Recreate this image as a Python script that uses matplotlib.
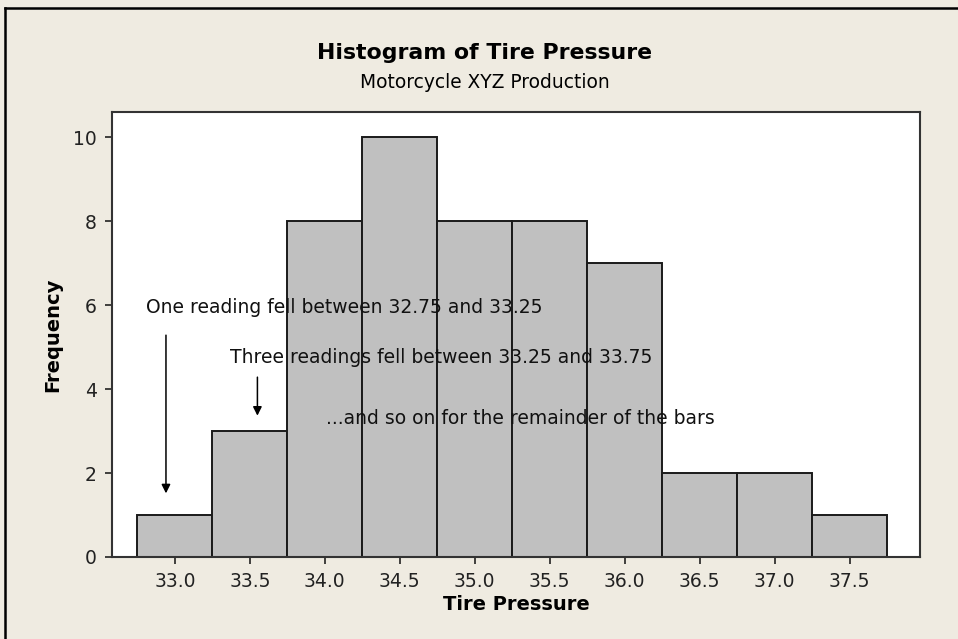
import matplotlib.pyplot as plt
from matplotlib.lines import Line2D

# bin centres and counts
bin_centers = [33.0, 33.5, 34.0, 34.5, 35.0, 35.5, 36.0, 36.5, 37.0, 37.5]
frequencies = [1, 3, 8, 10, 8, 8, 7, 2, 2, 1]
bin_width = 0.5

x_ticks = [33.0, 33.5, 34.0, 34.5, 35.0, 35.5, 36.0, 36.5, 37.0, 37.5]
y_ticks = [0, 2, 4, 6, 8, 10]

notes = [
    ("One reading fell between 32.75 and 33.25", 32.81, 5.95),
    ("Three readings fell between 33.25 and 33.75", 33.37, 4.76),
    ("...and so on for the remainder of the bars", 34.01, 3.29),
]
# arrows: (x, y_start, y_end)
arrows = [
    (32.94, 5.35, 1.45),
    (33.55, 4.35, 3.3),
]

bg = "#EFEBE1"

fig = plt.figure(figsize=(9.58, 6.39), dpi=100, facecolor=bg)
ax = fig.add_axes([112 / 958, 1 - 557 / 639, (920 - 112) / 958, (557 - 112) / 639])
ax.set_facecolor("white")

ax.bar(bin_centers, frequencies, width=bin_width, color="#C0C0C0",
       edgecolor="#1a1a1a", linewidth=1.4, zorder=2)

ax.set_xlim(32.58, 37.97)
ax.set_ylim(0, 10.6)
ax.set_xticks(x_ticks)
ax.set_xticklabels([f"{t:.1f}" for t in x_ticks])
ax.set_yticks(y_ticks)

for s in ax.spines.values():
    s.set_linewidth(1.5)
    s.set_color("#333333")
ax.tick_params(direction="out", length=5, width=1.2, labelsize=13.5,
               colors="#222222", pad=6)

ax.set_xlabel("Tire Pressure", fontsize=14, fontweight="bold", labelpad=3)
ax.set_ylabel("Frequency", fontsize=14, fontweight="bold", labelpad=8)

for txt, x, y in notes:
    ax.text(x, y, txt, fontsize=13.5, va="center", ha="left", zorder=4,
            color="#111111")

for x, y0, y1 in arrows:
    ax.annotate("", xy=(x, y1), xytext=(x, y0), zorder=4,
                arrowprops=dict(arrowstyle="-|>", color="black", lw=1.1,
                                mutation_scale=13))

fig.text(485 / 958, 1 - 53 / 639, "Histogram of Tire Pressure",
         ha="center", va="center", fontsize=15.8, fontweight="bold")
fig.text(485 / 958, 1 - 82 / 639, "Motorcycle XYZ Production",
         ha="center", va="center", fontsize=13.4)

# screenshot frame on top and left edges
fig.add_artist(Line2D([5 / 958, 1], [1 - 8 / 639, 1 - 8 / 639],
                      transform=fig.transFigure, color="black", lw=1.8))
fig.add_artist(Line2D([5 / 958, 5 / 958], [0, 1 - 8 / 639],
                      transform=fig.transFigure, color="black", lw=1.8))

fig.savefig("out.png", dpi=100, facecolor=bg)
